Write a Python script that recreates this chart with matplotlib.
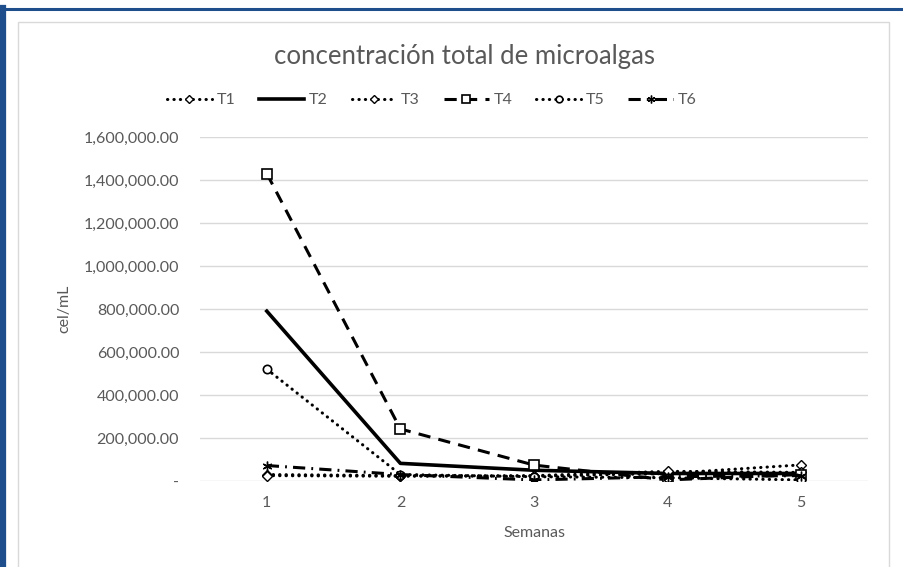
import matplotlib.pyplot as plt
from matplotlib.ticker import FuncFormatter
from matplotlib.patches import Rectangle
from matplotlib.lines import Line2D

# data
semanas = [1, 2, 3, 4, 5]
t1 = [30000, 25000, 22000, 35000, 75000]
t2 = [790000, 82000, 50000, 35000, 35000]
t3 = [25000, 22000, 25000, 45000, 40000]
t4 = [1430000, 242000, 74000, 5000, 30000]
t5 = [520000, 30000, 20000, 15000, 5000]
t6 = [72000, 30000, 5000, 20000, 25000]

plt.rcParams['font.family'] = ['Lato', 'DejaVu Sans']
gris = '#595959'

fig = plt.figure(figsize=(9.04, 5.67), dpi=100)

# blue frame and chart box
fig.patches.append(Rectangle((18/904, -0.1), (889-18)/904, 1.1 - 22/567,
                             transform=fig.transFigure, facecolor='white',
                             edgecolor='#d9d9d9', lw=1, zorder=-5))
fig.lines.append(Line2D([3/904, 3/904], [0, 1-8/567], transform=fig.transFigure,
                        color='#1f4e8c', lw=4.5, zorder=-5))
fig.lines.append(Line2D([3/904, 1], [1-9/567, 1-9/567], transform=fig.transFigure,
                        color='#1f4e8c', lw=2.2, zorder=-5))

ax = fig.add_axes([200/904, 1-481/567, 668/904, 344/567])
ax.set_facecolor('none')
ax.set_zorder(2)

lw = 2.2
punto = (0, (0.1, 2))
ax.plot(semanas, t1, color='black', lw=lw, ls=punto, dash_capstyle='round',
        marker='D', ms=5, mfc='white', mec='black', label='T1')
ax.plot(semanas, t2, color='black', lw=2.6, ls='-', label='T2')
ax.plot(semanas, t3, color='black', lw=lw, ls=punto, dash_capstyle='round',
        marker='D', ms=5, mfc='white', mec='black', label='T3')
ax.plot(semanas, t4, color='black', lw=lw, ls=(0, (4, 2.7)),
        marker='s', ms=7, mfc='white', mec='black', mew=1.2, label='T4')
ax.plot(semanas, t5, color='black', lw=lw, ls=punto, dash_capstyle='round',
        marker='o', ms=6, mfc='white', mec='black', mew=1.2, label='T5')
ax.plot(semanas, t6, color='black', lw=lw, ls=(0, (4, 2, 0.6, 2)),
        marker=(6, 2, 0), ms=7, mec='black', mew=1, label='T6')

ax.set_xlim(0.5, 5.5)
ax.set_ylim(0, 1600000)
ax.set_yticks(range(0, 1600001, 200000))
ax.set_xticks(semanas)
ax.yaxis.set_major_formatter(FuncFormatter(lambda v, p: '-' if v == 0 else f'{v:,.2f}'))
ax.grid(axis='y', color='#d9d9d9', lw=1)
ax.set_axisbelow(True)
for s in ax.spines.values():
    s.set_visible(False)
ax.tick_params(length=0, labelsize=11.5, colors=gris)
ax.tick_params(axis='y', pad=15)
ax.tick_params(axis='x', pad=11)

ax.set_xlabel('Semanas', fontsize=11.5, color=gris, labelpad=11)
ax.set_ylabel('cel/mL', fontsize=11.5, color=gris, labelpad=9)

fig.text(465/904, 1-57/567, 'concentración total de microalgas', ha='center', va='center',
         fontsize=18.5, color=gris)
fig.legend(loc='center', bbox_to_anchor=(432/904, 1-100/567), ncol=6, frameon=False,
           fontsize=11.5, labelcolor=gris, handlelength=2.8, handletextpad=0.3,
           columnspacing=1.5, markerscale=0.8)

fig.savefig('out.png', dpi=100)
